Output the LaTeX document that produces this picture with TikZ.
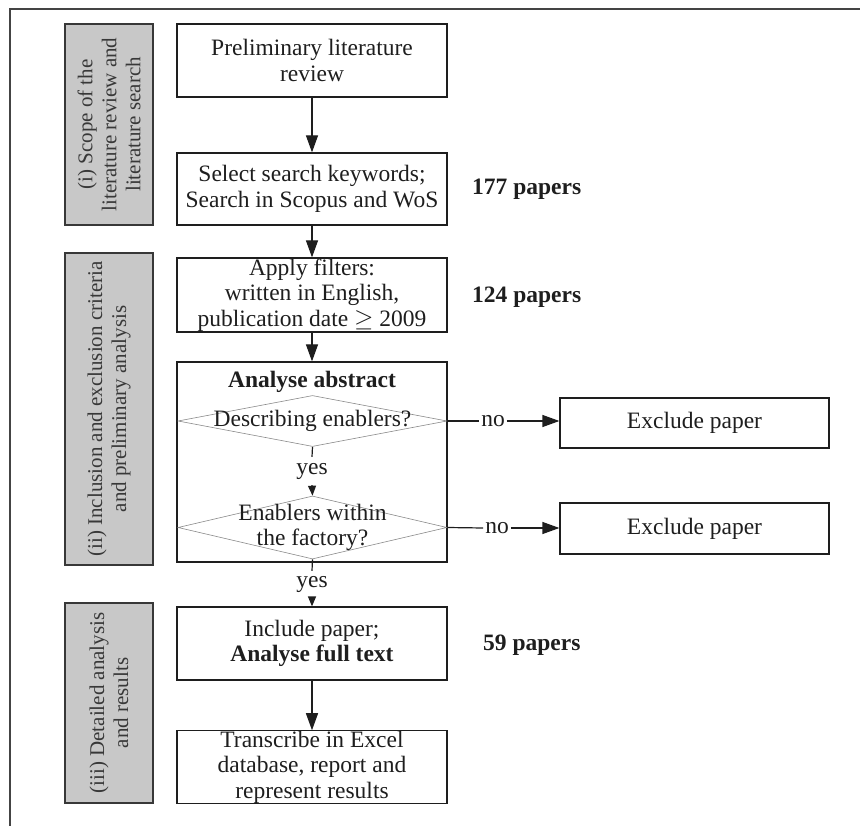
\documentclass[tikz,border=0pt]{standalone}
\usepackage{fontspec}
\setmainfont{Liberation Serif}
\usetikzlibrary{arrows.meta,shapes.geometric}
\definecolor{ink}{HTML}{1E1E1E}
\definecolor{grayfill}{HTML}{C8C8C8}
\definecolor{graytext}{HTML}{383838}
\definecolor{framecol}{HTML}{444444}
\definecolor{dialine}{HTML}{8A8A8A}
\begin{document}
\begin{tikzpicture}[x=1pt,y=-1pt,
  every node/.style={font=\fontsize{23.5}{25.5}\selectfont, text=ink},
  boldtext/.style={font=\fontsize{23.5}{25.5}\selectfont\bfseries},
  box/.style={draw=ink, line width=1.2pt, minimum width=270pt, align=center, inner sep=0pt},
  phase/.style={draw=graytext, fill=grayfill, line width=1.2pt, minimum width=88pt, inner sep=0pt},
  phasetext/.style={rotate=90, align=center, text=graytext, font=\fontsize{21}{24}\selectfont},
  dia/.style={diamond, draw=dialine, line width=0.6pt, inner sep=0pt},
  conn/.style={draw=ink, line width=1.2pt},
  bigarrow/.style={draw=ink, line width=1.2pt, -{Triangle[length=17pt,width=12pt]}},
  smallarrow/.style={draw=ink, line width=1.2pt, -{Triangle[length=10pt,width=8pt]}},
  lbl/.style={inner sep=2pt}
]
\useasboundingbox (0,0) rectangle (860,826);
\draw[framecol, line width=2pt] (10,826) -- (10,9) -- (860,9);

% phase boxes
\node[phase, minimum height=201pt] (p1) at (109,124.5) {};
\node[phasetext] (p1t) at (p1) {(i) Scope of the\\literature review and\\literature search};
\node[phase, minimum height=312pt] (p2) at (109,409) {};
\node[phasetext] (p2t) at (p2) {(ii) Inclusion and exclusion criteria\\and preliminary analysis};
\node[phase, minimum height=200pt] (p3) at (109,703) {};
\node[phasetext] (p3t) at (p3) {(iii) Detailed analysis\\and results};

% main boxes
\node[box, minimum height=73pt] (b1) at (312,60.5) {Preliminary literature\\review};
\node[box, minimum height=72pt] (b2) at (312,189) {Select search keywords;\\Search in Scopus and WoS};
\node[box, minimum height=74pt] (b3) at (312,295) {Apply filters:\\written in English,\\publication date $\geq$ 2009};
\node[box, minimum height=200pt] (ab) at (312,462) {};
\node[boldtext] (abt) at (312,382) {Analyse abstract};
\node[dia, minimum width=269pt, minimum height=51pt] (d1) at (312.5,421) {};
\node (d1t) at (d1) {Describing enablers?};
\node[dia, minimum width=269pt, minimum height=63pt] (d2) at (312.5,527.5) {};
\node[align=center] (d2t) at (d2) {Enablers within\\the factory?};
\node[inner sep=0pt, minimum height=28pt] (y1) at (312,471) {yes};
\node[inner sep=0pt, minimum height=26pt] (y2) at (312,584) {yes};
\node[box, minimum height=73pt] (b4) at (312,643.5) {Include paper;\\\textbf{Analyse full text}};
\node[box, minimum height=72pt] (b5) at (312,767) {Transcribe in Excel\\database, report and\\represent results};

% exclude boxes
\node[box, minimum width=269pt, minimum height=50pt] (e1) at (694.5,423) {Exclude paper};
\node[box, minimum width=269pt, minimum height=51pt] (e2) at (694.5,528.5) {Exclude paper};
\node[lbl] (n1) at (493,421) {no};
\node[lbl] (n2) at (497,528) {no};

% counts
\node[boldtext, anchor=west, inner sep=0pt] (c1) at (472,189) {177 papers};
\node[boldtext, anchor=west, inner sep=0pt] (c2) at (472,297) {124 papers};
\node[boldtext, anchor=west, inner sep=0pt] (c3) at (483,645) {59 papers};

% connectors
\draw[bigarrow] (b1.south) -- (b2.north);
\draw[bigarrow] (b2.south) -- (b3.north);
\draw[bigarrow] (b3.south) -- (ab.north);
\draw[conn] (d1.south) -- (y1.north);
\draw[smallarrow] (y1.south) -- (d2.north);
\draw[conn] (d2.south) -- (y2.north);
\draw[smallarrow] (y2.south) -- (b4.north);
\draw[bigarrow] (b4.south) -- (b5.north);
\draw[conn] (d1.east) -- (n1.west);
\draw[bigarrow] (n1.east) -- (n1.east -| e1.west);
\draw[conn] (d2.east) -- (n2.west);
\draw[bigarrow] (n2.east) -- (n2.east -| e2.west);
\end{tikzpicture}
\end{document}
